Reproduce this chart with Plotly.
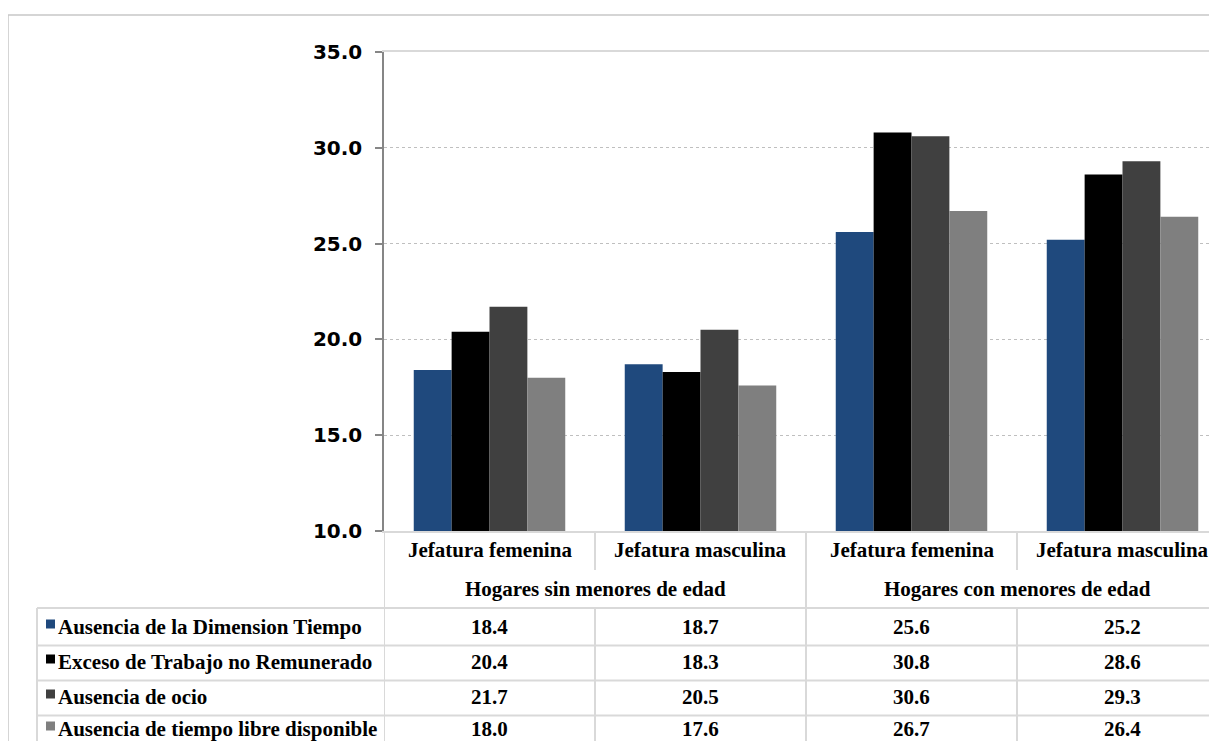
import plotly.graph_objects as go

# ---- data ----
categories = ["Jefatura femenina", "Jefatura masculina", "Jefatura femenina", "Jefatura masculina"]
groups = ["Hogares sin menores de edad", "Hogares sin menores de edad",
          "Hogares con menores de edad", "Hogares con menores de edad"]
series_names = ["Ausencia de la Dimension Tiempo", "Exceso de Trabajo no Remunerado",
                "Ausencia de ocio", "Ausencia de tiempo libre disponible"]
ausencia_dimension = [18.4, 18.7, 25.6, 25.2]
exceso_trabajo = [20.4, 18.3, 30.8, 28.6]
ausencia_ocio = [21.7, 20.5, 30.6, 29.3]
ausencia_tiempo_libre = [18.0, 17.6, 26.7, 26.4]
y_ticks = [10, 15, 20, 25, 30, 35]

series_values = [ausencia_dimension, exceso_trabajo, ausencia_ocio, ausencia_tiempo_libre]
colors = ["#1f497d", "#000000", "#404040", "#7f7f7f"]

# page body has an 8px margin; keep the figure inside the window
OFF = 8
W, H = 1201, 733
ML = 384 - OFF
MT = 52 - OFF
PLOT_BOTTOM = 531 - OFF
MB = H - PLOT_BOTTOM
PW = W - ML
PH = PLOT_BOTTOM - MT
GROUP_PX = 211.0

def py(pix):  # reference pixel row -> paper y
    return (PLOT_BOTTOM - (pix - OFF)) / PH

def px(pix):  # reference pixel col -> paper x
    return (pix - OFF - ML) / PW

xidx = list(range(len(categories)))

fig = go.Figure()
for name, vals, col in zip(series_names, series_values, colors):
    fig.add_trace(go.Bar(x=xidx, y=vals, name=name, marker=dict(color=col, line=dict(width=0)),
                         showlegend=False))

serif = "Liberation Serif, Times New Roman, serif"
tfont = dict(family=serif, size=21, color="black", weight="bold")
line_col = "#d9d9d9"

shapes = []
annotations = []

# outer chart frame
shapes.append(dict(type="rect", xref="paper", yref="paper", x0=px(8), x1=px(1260),
                   y0=py(790), y1=py(15), line=dict(color="#c8c8c8", width=1.5), layer="below"))

# category labels
for i, c in enumerate(categories):
    annotations.append(dict(x=i, xref="x", y=py(550), yref="paper", text=c, showarrow=False,
                            font=tfont, xanchor="center", yanchor="middle"))

# group labels
uniq_groups = []
for g in groups:
    if g not in uniq_groups:
        uniq_groups.append(g)
for g in uniq_groups:
    idx = [i for i, gg in enumerate(groups) if gg == g]
    annotations.append(dict(x=sum(idx) / len(idx), xref="x", y=py(589), yref="paper", text=g,
                            showarrow=False, font=tfont, xanchor="center", yanchor="middle"))

# data rows
row_centers = [627, 662, 697, 729]
row_lines = [608, 645.5, 680.5, 715.5]
for r, (name, vals, col) in enumerate(zip(series_names, series_values, colors)):
    c = row_centers[r]
    shapes.append(dict(type="rect", xref="paper", yref="paper", x0=px(46), x1=px(55),
                       y0=py(c + 1.5), y1=py(c - 7.5), fillcolor=col, line=dict(width=0)))
    annotations.append(dict(x=px(56), xref="paper", y=py(c), yref="paper", text=name,
                            showarrow=False, font=tfont, xanchor="left", yanchor="middle"))
    for i, v in enumerate(vals):
        annotations.append(dict(x=i, xref="x", y=py(c), yref="paper", text=f"{v:.1f}",
                                showarrow=False, font=tfont, xanchor="center", yanchor="middle"))

# horizontal table lines
for ly in row_lines:
    shapes.append(dict(type="line", xref="paper", yref="paper", x0=px(37), x1=1.05,
                       y0=py(ly), y1=py(ly), line=dict(color=line_col, width=2)))
# vertical table lines
shapes.append(dict(type="line", xref="paper", yref="paper", x0=px(37), x1=px(37),
                   y0=py(608), y1=py(790), line=dict(color=line_col, width=2)))
for b in [-0.5, 0.5, 1.5, 2.5]:
    full = b in (-0.5, 1.5)
    if full:
        shapes.append(dict(type="line", xref="x", yref="paper", x0=b, x1=b,
                           y0=0, y1=py(790), line=dict(color=line_col, width=2)))
    else:
        shapes.append(dict(type="line", xref="x", yref="paper", x0=b, x1=b,
                           y0=0, y1=py(570), line=dict(color=line_col, width=2)))
        shapes.append(dict(type="line", xref="x", yref="paper", x0=b, x1=b,
                           y0=py(608), y1=py(790), line=dict(color=line_col, width=2)))

fig.update_layout(
    width=W, height=H, autosize=False,
    margin=dict(l=ML, r=0, t=MT, b=MB, pad=0),
    paper_bgcolor="white", plot_bgcolor="white",
    barmode="group", bargap=0.282, bargroupgap=0,
    shapes=shapes, annotations=annotations,
    xaxis=dict(range=[-0.5, -0.5 + PW / GROUP_PX], showticklabels=False, showgrid=False,
               zeroline=False, showline=True, linecolor=line_col, linewidth=2, mirror=True,
               ticks="", fixedrange=True),
    yaxis=dict(range=[10, 35], tickvals=y_ticks, ticktext=[f"{t:.1f}" for t in y_ticks],
               showgrid=True, gridcolor="#bfbfbf", griddash="dot", gridwidth=1,
               zeroline=False, showline=True, linecolor="#868686", linewidth=1.5,
               ticks="outside", ticklen=7, tickcolor="#868686", tickwidth=1.5,
               ticklabelstandoff=9,
               tickfont=dict(family="DejaVu Sans, Verdana, sans-serif", size=20,
                             color="black", weight="bold")),
)

fig.write_html("out.html")
